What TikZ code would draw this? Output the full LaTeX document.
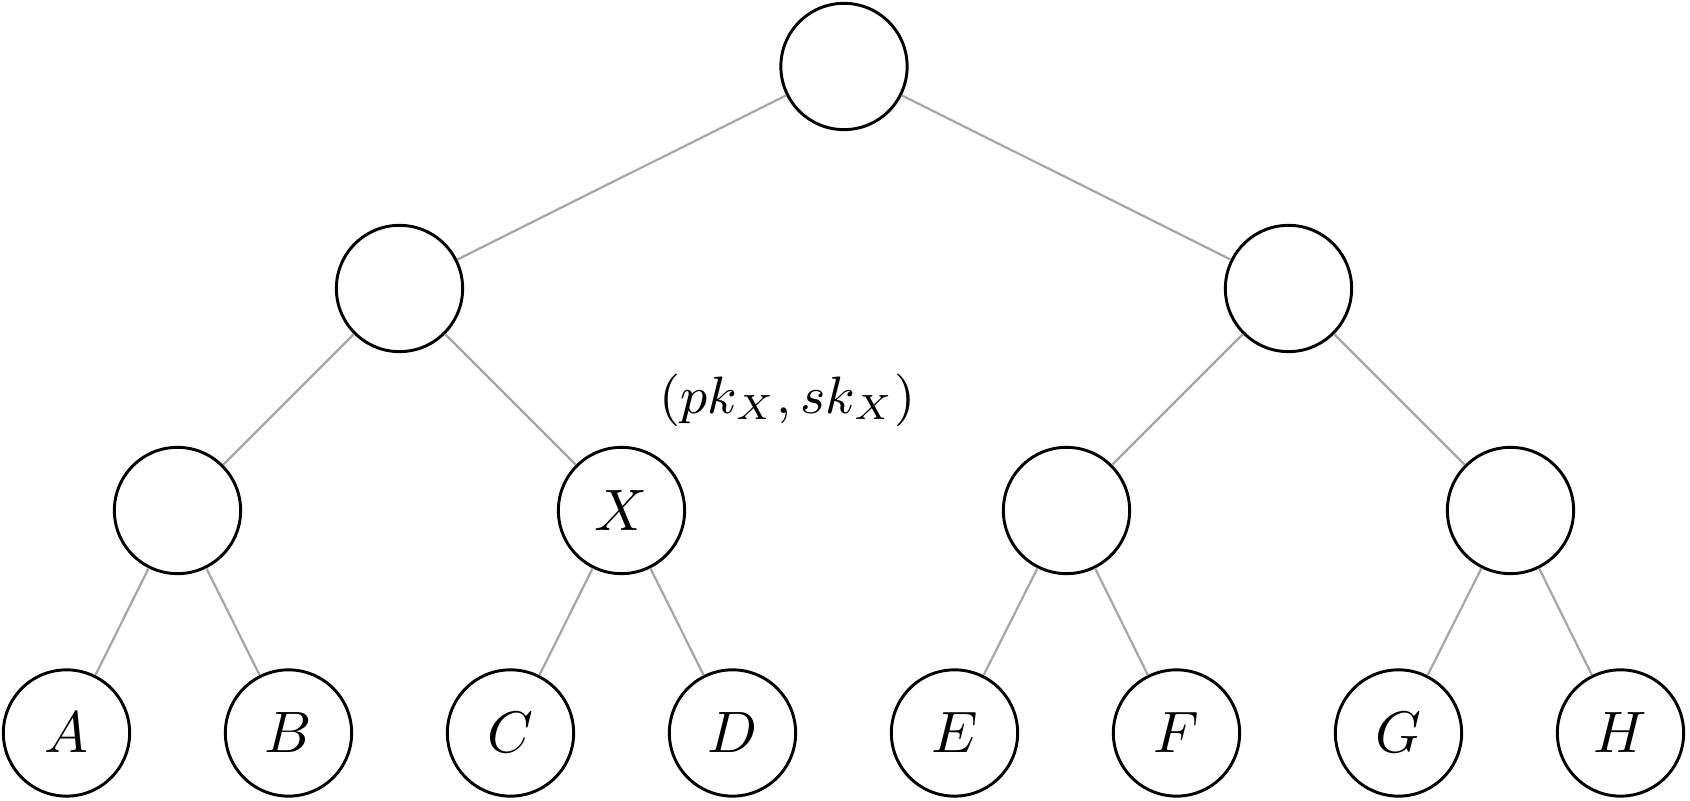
\documentclass[tikz,border=0pt]{standalone}
\begin{document}
\begin{tikzpicture}[x=0.171pt,y=-0.171pt,
  treenode/.style={circle,draw=black,line width=0.5pt,minimum size=21.6pt,inner sep=0pt,font=\fontsize{10}{12}\selectfont},
  edge/.style={draw=black!35,line width=0.38pt}]
\useasboundingbox (0,0) rectangle (1690,801);
% root and inner levels
\node[treenode] (r)  at (844,66.5) {};
\node[treenode] (l)  at (399.5,288.5) {};
\node[treenode] (rr) at (1288.5,288.5) {};
\node[treenode] (ll) at (177.5,510.5) {};
\node[treenode] (x)  at (621.5,510.5) {$X$};
\node[treenode] (rl) at (1066.5,510.5) {};
\node[treenode] (rx) at (1510.5,510.5) {};
% leaves
\node[treenode] (a) at (66.5,733) {$A$};
\node[treenode] (b) at (288.5,733) {$B$};
\node[treenode] (c) at (510.5,733) {$C$};
\node[treenode] (d) at (732.5,733) {$D$};
\node[treenode] (e) at (954.5,733) {$E$};
\node[treenode] (f) at (1176.5,733) {$F$};
\node[treenode] (g) at (1398.5,733) {$G$};
\node[treenode] (h) at (1620.5,733) {$H$};
% key pair of X
\node[inner sep=0pt,font=\fontsize{9.1}{11}\selectfont] (key) at (787.5,400.5) {$(pk_X,sk_X)$};
% edges
\path[edge] (r) -- (l) (r) -- (rr)
  (l) -- (ll) (l) -- (x) (rr) -- (rl) (rr) -- (rx)
  (ll) -- (a) (ll) -- (b) (x) -- (c) (x) -- (d)
  (rl) -- (e) (rl) -- (f) (rx) -- (g) (rx) -- (h);
\end{tikzpicture}
\end{document}
